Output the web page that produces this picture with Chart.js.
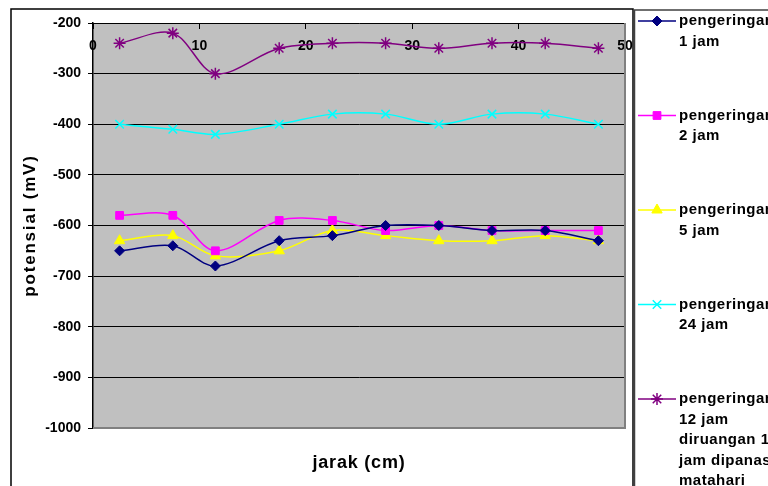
<!DOCTYPE html>
<html>
<head>
<meta charset="utf-8">
<title>potensial vs jarak</title>
<script src="https://cdn.jsdelivr.net/npm/chart.js@4/dist/chart.umd.min.js"></script>
<style>
  html, body { margin: 0; padding: 0; background: #fff; }
  #wrap { width: 768px; height: 486px; position: relative; }
</style>
</head>
<body>
<div id="wrap"><canvas id="c" width="768" height="486"></canvas></div>
<script>
// distance along the sample (cm)
const jarak = [2.5, 7.5, 11.5, 17.5, 22.5, 27.5, 32.5, 37.5, 42.5, 47.5];

// measured potential (mV) for each drying treatment
const kering1jam  = [-650, -640, -680, -630, -620, -600, -600, -610, -610, -630];
const kering2jam  = [-580, -580, -650, -590, -590, -610, -600, -610, -610, -610];
const kering5jam  = [-630, -620, -660, -650, -610, -620, -630, -630, -620, -630];
const kering24jam = [-400, -410, -420, -400, -380, -380, -400, -380, -380, -400];
const kering12jamMatahari = [-240, -220, -300, -250, -240, -240, -250, -240, -240, -250];

const seriesLabels = [
  'pengeringan 1 jam',
  'pengeringan 2 jam',
  'pengeringan 5 jam',
  'pengeringan 24 jam',
  'pengeringan 12 jam diruangan 12 jam dipanas matahari'
];
// legend text as it wraps in the key box
const legendLines = [
  ['pengeringan', '1 jam'],
  ['pengeringan', '2 jam'],
  ['pengeringan', '5 jam'],
  ['pengeringan', '24 jam'],
  ['pengeringan', '12 jam', 'diruangan 12', 'jam dipanas', 'matahari']
];
const xTicks = [0, 10, 20, 30, 40, 50];
const yTicks = [-1000, -900, -800, -700, -600, -500, -400, -300, -200];

const FONT = "'Liberation Sans', Arial, sans-serif";
Chart.defaults.font.family = FONT;

const styles = [
  { color: '#000080', point: 'rectRot',  radius: 5,   bw: 1 },
  { color: '#FF00FF', point: 'rect',     radius: 5.5, bw: 1 },
  { color: '#FFFF00', point: 'triangle', radius: 6,   bw: 1 },
  { color: '#00FFFF', point: 'crossRot', radius: 6,   bw: 1.5 },
  { color: '#800080', point: 'star',     radius: 6,   bw: 1.5 }
];
const values = [kering1jam, kering2jam, kering5jam, kering24jam, kering12jamMatahari];

const datasets = values.map((v, i) => ({
  label: seriesLabels[i],
  data: v.map((y, k) => ({ x: jarak[k], y })),
  borderColor: styles[i].color,
  backgroundColor: styles[i].color,
  pointBackgroundColor: styles[i].color,
  pointBorderColor: styles[i].color,
  pointStyle: styles[i].point,
  pointRadius: styles[i].radius,
  pointBorderWidth: styles[i].bw,
  borderWidth: 1.5,
  tension: 0.33,
  fill: false
}));

// frame, plot background, titles and the key box
const decor = {
  id: 'decor',
  beforeDraw(chart) {
    const { ctx, chartArea: a } = chart;
    ctx.save();
    ctx.fillStyle = '#fff';
    ctx.fillRect(0, 0, chart.width, chart.height);
    ctx.fillStyle = '#C0C0C0';
    ctx.fillRect(a.left, a.top, a.right - a.left, a.bottom - a.top);
    ctx.restore();
  },
  beforeDatasetsDraw(chart) {
    const { ctx, chartArea: a } = chart;
    ctx.save();
    ctx.strokeStyle = '#808080';
    ctx.lineWidth = 2;
    ctx.beginPath();
    ctx.moveTo(a.left, a.bottom);
    ctx.lineTo(a.right, a.bottom);
    ctx.lineTo(a.right, a.top);
    ctx.stroke();
    ctx.restore();
  },
  afterDraw(chart) {
    const { ctx, chartArea: a } = chart;
    ctx.save();
    // outer chart frame
    ctx.strokeStyle = '#000';
    ctx.lineWidth = 1.5;
    ctx.strokeRect(11, 9, 622, 500);
    // key box
    ctx.strokeStyle = '#404040';
    ctx.lineWidth = 1.5;
    ctx.strokeRect(634.5, 10, 300, 500);

    // axis titles
    ctx.fillStyle = '#000';
    ctx.textAlign = 'center';
    ctx.textBaseline = 'middle';
    ctx.font = 'bold 18px ' + FONT;
    ctx.letterSpacing = '0.8px';
    ctx.fillText('jarak (cm)', (a.left + a.right) / 2, 463);
    ctx.save();
    ctx.translate(30, (a.top + a.bottom) / 2);
    ctx.rotate(-Math.PI / 2);
    ctx.font = 'bold 17px ' + FONT;
    ctx.letterSpacing = '1.8px';
    ctx.fillText('potensial (mV)', 0, 0);
    ctx.restore();

    // key entries
    ctx.font = 'bold 15px ' + FONT;
    ctx.letterSpacing = '0.5px';
    ctx.textAlign = 'left';
    chart.data.datasets.forEach((ds, i) => {
      const y0 = 21 + i * 94.5;
      ctx.strokeStyle = ds.borderColor;
      ctx.lineWidth = 1.5;
      ctx.beginPath();
      ctx.moveTo(638, y0);
      ctx.lineTo(676, y0);
      ctx.stroke();
      ctx.fillStyle = ds.pointBackgroundColor;
      ctx.strokeStyle = ds.pointBorderColor;
      ctx.lineWidth = ds.pointBorderWidth;
      Chart.helpers.drawPoint(ctx, {
        pointStyle: ds.pointStyle,
        radius: ds.pointRadius,
        borderWidth: ds.pointBorderWidth,
        rotation: 0
      }, 657, y0);
      ctx.fillStyle = '#000';
      legendLines[i].forEach((t, k) => ctx.fillText(t, 679, y0 + k * 20.5));
    });
    ctx.restore();
  }
};

new Chart(document.getElementById('c'), {
  type: 'line',
  data: { datasets },
  plugins: [decor],
  options: {
    responsive: false,
    animation: false,
    layout: { padding: { left: 0, top: 23, right: 143, bottom: 58 } },
    plugins: { legend: { display: false }, tooltip: { enabled: false } },
    scales: {
      x: {
        type: 'linear',
        position: { y: -200 },
        min: 0, max: 50,
        afterBuildTicks(s) { s.ticks = xTicks.map(v => ({ value: v })); },
        afterFit(s) { s.paddingLeft = 0; s.paddingRight = 0; },
        ticks: { color: '#000', font: { size: 14, weight: 'bold' }, padding: 9, maxRotation: 0,
                 callback: v => String(v) },
        grid: { drawOnChartArea: false, drawTicks: true, tickLength: 6, tickColor: '#000' },
        border: { display: false }
      },
      y: {
        type: 'linear',
        position: 'left',
        min: -1000, max: -200,
        afterBuildTicks(s) { s.ticks = yTicks.map(v => ({ value: v })); },
        afterFit(s) { s.width = 93; s.paddingTop = 0; s.paddingBottom = 0; },
        ticks: { color: '#000', font: { size: 14, weight: 'bold' }, padding: 7,
                 callback: v => String(v) },
        grid: {
          color: c => (c.tick && c.tick.value === -1000) ? '#808080' : '#000',
          lineWidth: 1, tickLength: 5, tickColor: '#000'
        },
        border: { display: true, color: '#000', width: 1.5 }
      }
    }
  }
});
</script>
</body>
</html>
